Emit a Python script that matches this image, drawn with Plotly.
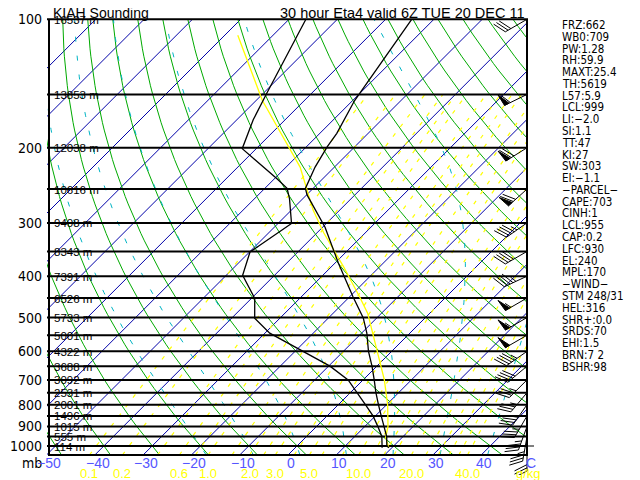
import numpy as np
import plotly.graph_objects as go

# ---------------- data ----------------
title_left = "KIAH Sounding"
title_right = "30 hour Eta4 valid 6Z TUE 20 DEC 11"

level_p = [100, 150, 200, 250, 300, 350, 400, 450, 500, 550, 600, 650, 700, 750, 800, 850, 900, 950, 1000]
level_hgt = ["16537 m", "13853 m", "12038 m", "10616 m", "9408 m", "8343 m", "7391 m", "6526 m",
             "5733 m", "5001 m", "4322 m", "3688 m", "3092 m", "2531 m", "2001 m", "1496 m",
             "1015 m", "555 m", "114 m"]
pres_tick = [100, 200, 300, 400, 500, 600, 700, 800, 900, 1000]

temp_p = [1010, 1000, 950, 900, 850, 800, 750, 700, 650, 600, 544, 501, 447, 372, 307, 258, 249, 222, 199, 185, 155, 100]
temp_c = [19.4, 18.6, 16.6, 13.9, 11.2, 8.3, 5.3, 2.3, -1.0, -4.8, -8.9, -12.8, -19.3, -29.4, -39.5, -49.9, -51.6, -54.0, -55.7, -56.5, -59.6, -64.6]

dwpt_p = [1010, 1000, 950, 900, 850, 800, 750, 700, 650, 593, 544, 502, 451, 398, 351, 301, 263, 249, 236, 201, 172, 149, 100]
dwpt_c = [18.0, 17.6, 15.6, 12.7, 9.5, 5.6, 1.4, -3.1, -9.7, -19.5, -29.0, -35.2, -39.3, -46.6, -49.9, -47.2, -52.8, -55.4, -59.6, -72.9, -76.6, -79.3, -86.5]

parcel_p = [1010, 955, 900, 850, 800, 700, 596, 489, 448, 380, 316, 280, 222, 155, 109]
parcel_c = [19.4, 16.6, 14.8, 12.6, 10.2, 4.4, -3.3, -12.8, -17.8, -27.5, -38.7, -45.5, -57.1, -78.7, -97.3]

wind_p = level_p
wind_dir = [240, 244, 238, 228, 235, 240, 245, 240, 240, 240, 235, 230, 225, 220, 215, 210, 200, 190, 180]
wind_kt = [30, 60, 70, 70, 45, 40, 45, 55, 55, 50, 45, 40, 35, 35, 35, 35, 35, 35, 30]

isotherm_c = list(range(-140, 50, 10))
dry_theta_c = list(range(-50, 190, 10))
moist_thw_c = list(range(-20, 50, 10))
mixr_gkg = [0.1, 0.2, 0.4, 0.6, 0.8, 1.0, 1.5, 2.0, 2.5, 3.0, 4.0, 5.0, 6.0, 8.0, 10.0, 12.0, 14.0, 16.0, 20.0, 24.0, 28.0, 32.0, 36.0, 40.0]
mixr_label = [0.1, 0.2, 0.6, 1.0, 2.0, 3.0, 5.0, 10.0, 20.0, 40.0]
temp_tick_c = [-50, -40, -30, -20, -10, 0, 10, 20, 30, 40]

index_text = ["FRZ:662", "WB0:709", "PW:1.28", "RH:59.9", "MAXT:25.4", "TH:5619", "L57:5.9",
              "LCL:999", "LI:-2.0", "SI:1.1", "TT:47", "KI:27", "SW:303", "EI:-1.1",
              "-PARCEL-", "CAPE:703", "CINH:1", "LCL:955", "CAP:0.2", "LFC:930", "EL:240",
              "MPL:170", "-WIND-", "STM 248/31", "HEL:316", "SHR+:0.0", "SRDS:70",
              "EHI:1.5", "BRN:7 2", "BSHR:98"]

# ---------------- skew-T geometry (screen pixels) ----------------
X0, PPC, PPD, Y100 = 297.0, 4.83, 426.7, 19.3   # px of 0C@1000mb, px/degC, px/decade, px of 100mb
OFF = 8                                           # page body margin
XMIN, XMAX, YTOP, YBOT = 47, 528, 17, 475         # plot area in screen pixels
W, H = 640 - OFF, 480 - OFF


def sx(tc, p):
    return X0 + PPC * np.asarray(tc, float) + PPD * np.log10(1000.0 / np.asarray(p, float))


def y2p(y):
    return 100.0 * 10 ** ((np.asarray(y, float) - Y100) / PPD)


def p2y(p):
    return Y100 + PPD * np.log10(np.asarray(p, float) / 100.0)


P_BOT = float(y2p(455))
P_TOP = 100.0


def ax(x):
    return (x - XMIN) / (XMAX - XMIN)


def ay(y):
    return (YBOT - y) / (YBOT - YTOP)


def join(curves):
    xs, ys = [], []
    for cx, cy in curves:
        xs += list(cx) + [None]
        ys += list(cy) + [None]
    return xs, ys


def es(tc):
    return 6.112 * np.exp(17.67 * tc / (tc + 243.5))


def moist_curve(thw, pgrid_up, pgrid_dn):
    Rd, cp, Lv, eps = 287.04, 1005.7, 2.501e6, 0.622

    def f(p, T):
        e = es(T - 273.15)
        rs = eps * e / (p - e)
        return (Rd * T + Lv * rs) / (cp + Lv * Lv * rs * eps / (Rd * T * T)) / p

    def run(grid):
        T = thw + 273.15
        out = [T]
        for i in range(1, len(grid)):
            p = grid[i - 1]
            n = 4
            h = (grid[i] - grid[i - 1]) / n
            for _ in range(n):
                k1 = f(p, T); k2 = f(p + h / 2, T + h / 2 * k1)
                k3 = f(p + h / 2, T + h / 2 * k2); k4 = f(p + h, T + h * k3)
                T += h / 6 * (k1 + 2 * k2 + 2 * k3 + k4)
                p += h
            out.append(T)
        return np.array(out) - 273.15

    up = run(pgrid_up)
    dn = run(pgrid_dn)
    ps = np.concatenate([pgrid_dn[::-1], pgrid_up[1:]])
    ts = np.concatenate([dn[::-1], up[1:]])
    return ps, ts


fig = go.Figure()

# isotherms
curves = [(sx([t, t], [P_BOT, P_TOP]), [P_BOT, P_TOP]) for t in isotherm_c]
xs, ys = join(curves)
fig.add_trace(go.Scatter(x=xs, y=ys, mode="lines", line=dict(color="#0000a8", width=1), hoverinfo="skip"))

# dry adiabats
pg = np.geomspace(P_BOT, P_TOP, 60)
curves = []
for th in dry_theta_c:
    tk = (th + 273.15) * (pg / 1000.0) ** 0.2857 - 273.15
    curves.append((sx(tk, pg), pg))
xs, ys = join(curves)
fig.add_trace(go.Scatter(x=xs, y=ys, mode="lines", line=dict(color="#00aa00", width=1), hoverinfo="skip"))

# moist adiabats
pup = np.geomspace(1000.0, P_TOP, 90)
pdn = np.geomspace(1000.0, P_BOT, 4)
curves = []
for thw in moist_thw_c:
    ps, ts = moist_curve(thw, pup, pdn)
    curves.append((sx(ts, ps), ps))
xs, ys = join(curves)
fig.add_trace(go.Scatter(x=xs, y=ys, mode="lines", line=dict(color="#00b4c4", width=1, dash="5px,14px"), hoverinfo="skip"))

# mixing ratio lines
pm = np.geomspace(P_BOT, 150.0, 40)


def td_w(w, p):
    e = w * p / (622.0 + w)
    a = np.log(e / 6.112)
    return 243.5 * a / (17.67 - a)


curves = [(sx(td_w(w, pm), pm), pm) for w in mixr_gkg]
xs, ys = join(curves)
fig.add_trace(go.Scatter(x=xs, y=ys, mode="lines", line=dict(color="#ffff00", width=1.2, dash="4px,8px"), hoverinfo="skip"))

# pressure level lines
curves = [([XMIN, XMAX], [p, p]) for p in level_p]
xs, ys = join(curves)
fig.add_trace(go.Scatter(x=xs, y=ys, mode="lines", line=dict(color="black", width=2), hoverinfo="skip"))

# box edges
fig.add_trace(go.Scatter(x=[49, 49, None, 527, 527, None, 48, 528], y=[P_TOP, P_BOT, None, P_TOP, P_BOT, None, P_BOT, P_BOT],
                         mode="lines", line=dict(color="black", width=2), hoverinfo="skip"))

# parcel trace
fig.add_trace(go.Scatter(x=sx(parcel_c, parcel_p), y=parcel_p, mode="lines", line=dict(color="#ffff00", width=1.3), hoverinfo="skip"))
# temperature & dewpoint
fig.add_trace(go.Scatter(x=sx(temp_c, temp_p), y=temp_p, mode="lines", line=dict(color="black", width=1.3), hoverinfo="skip"))
fig.add_trace(go.Scatter(x=sx(dwpt_c, dwpt_p), y=dwpt_p, mode="lines", line=dict(color="black", width=1.3), hoverinfo="skip"))

# wind barbs
lx, ly, tx, ty = [], [], [], []
for p0, d, s in zip(wind_p, wind_dir, wind_kt):
    x0, y0 = 527.0, float(p2y(p0))
    r = np.radians(d)
    ux, uy = np.sin(r), -np.cos(r)
    vx, vy = -uy, ux
    Ls, F = 25.0, 14.0
    fx, fy = 0.45 * ux + 0.89 * vx, 0.45 * uy + 0.89 * vy
    tipx, tipy = x0 + Ls * ux, y0 + Ls * uy
    segs = [((x0, y0), (tipx, tipy))]
    k = int(5 * round(s / 5.0))
    n50 = k // 50; k -= 50 * n50
    n10 = k // 10; k -= 10 * n10
    n5 = k // 5
    pos = 0.0
    for _ in range(n50):
        ax_, ay_ = tipx - pos * ux, tipy - pos * uy
        bx_, by_ = tipx - (pos + 5) * ux, tipy - (pos + 5) * uy
        apx, apy = bx_ + F * fx, by_ + F * fy
        tx += [ax_, bx_, apx, ax_, None]
        ty += [float(y2p(ay_)), float(y2p(by_)), float(y2p(apy)), float(y2p(ay_)), None]
        pos += 6.5
    for _ in range(n10):
        sx_, sy_ = tipx - pos * ux, tipy - pos * uy
        segs.append(((sx_, sy_), (sx_ + F * fx, sy_ + F * fy)))
        pos += 3.2
    for _ in range(n5):
        if pos == 0:
            pos = 3.2
        sx_, sy_ = tipx - pos * ux, tipy - pos * uy
        segs.append(((sx_, sy_), (sx_ + F / 2 * fx, sy_ + F / 2 * fy)))
    for (a, b) in segs:
        lx += [a[0], b[0], None]
        ly += [float(y2p(a[1])), float(y2p(b[1])), None]
fig.add_trace(go.Scatter(x=lx, y=ly, mode="lines", line=dict(color="black", width=1), hoverinfo="skip"))
fig.add_trace(go.Scatter(x=tx, y=ty, mode="lines", fill="toself", fillcolor="black", line=dict(color="black", width=1), hoverinfo="skip"))

# ---------------- text ----------------
NARROW = "Liberation Sans Narrow, Arial Narrow, DejaVu Sans Condensed, Liberation Sans, sans-serif"
REG = "Liberation Sans, Arial, sans-serif"
ann = []


def text(x, y, s, size, color="black", xanchor="left", font=REG, pad=1):
    ann.append(dict(x=ax(x), y=ay(y), xref="paper", yref="paper", text=s, showarrow=False,
                    xanchor=xanchor, yanchor="middle", borderpad=pad,
                    font=dict(family=font, size=size, color=color)))


text(52, 13.5, title_left, 14, pad=0)
text(525, 13.5, title_right, 14.5, xanchor="right", pad=0)
for p in pres_tick:
    text(44, float(p2y(p)), str(p), 14, xanchor="right", font=NARROW)
text(44, 463, "mb", 14, xanchor="right", font=NARROW)
for p, h in zip(level_p, level_hgt):
    text(52, float(p2y(p)) + 0.5, h, 11.5)
for t in temp_tick_c:
    lab = ("\u2212" + str(abs(t))) if t < 0 else str(t)
    text(float(sx(t, P_BOT)) + 3, 463, lab, 14, color="#5555ff", xanchor="center")
text(531, 463, "C", 14, color="#5555ff", xanchor="center")
for w in mixr_label:
    text(float(sx(td_w(w, P_BOT), P_BOT)), 473, f"{w:.1f}", 13, color="#ffff00", xanchor="center")
text(528, 473, "g/kg", 13, color="#ffff00", xanchor="center")
for i, s in enumerate(index_text):
    text(560, 25 + i * 11.78, s.replace("-", "\u2212") if s.startswith("-") or ":-" in s else s, 11.5, font=NARROW)

fig.update_layout(
    width=W, height=H,
    margin=dict(l=XMIN - OFF, r=640 - XMAX, t=YTOP - OFF, b=480 - YBOT, pad=0),
    paper_bgcolor="white", plot_bgcolor="white", showlegend=False,
    xaxis=dict(range=[XMIN, XMAX], visible=False, showgrid=False, zeroline=False, fixedrange=True),
    yaxis=dict(type="log", range=[float(np.log10(y2p(YBOT))), float(np.log10(y2p(YTOP)))], visible=False,
               showgrid=False, zeroline=False, fixedrange=True),
    annotations=ann,
)
fig.add_shape(type="line", xref="paper", yref="paper", x0=ax(521), x1=ax(534), y0=ay(446), y1=ay(446),
              line=dict(color="black", width=1))
fig.write_html("out.html")
